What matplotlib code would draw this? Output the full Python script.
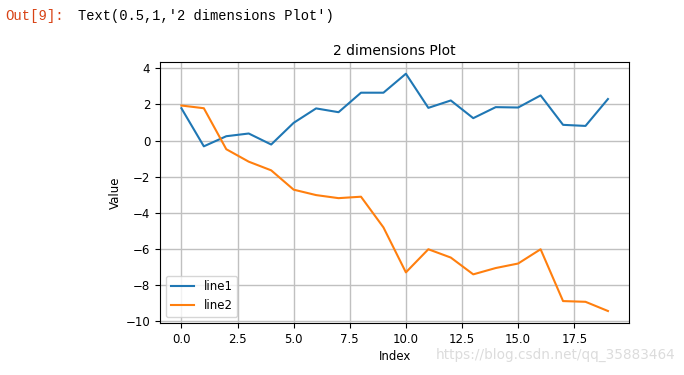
import matplotlib
matplotlib.use("Agg")
import matplotlib.pyplot as plt

# values
index = list(range(20))
line1 = [1.79, -0.32, 0.24, 0.39, -0.22, 0.98, 1.78, 1.57, 2.65, 2.65,
         3.70, 1.81, 2.22, 1.24, 1.85, 1.83, 2.50, 0.87, 0.81, 2.30]
line2 = [1.94, 1.79, -0.48, -1.17, -1.65, -2.72, -3.02, -3.19, -3.11, -4.81,
         -7.30, -6.02, -6.48, -7.41, -7.06, -6.81, -6.02, -8.89, -8.93, -9.44]
series_names = ['line1', 'line2']

plt.rcParams['font.size'] = 8.5

fig = plt.figure(figsize=(6.84, 3.75), dpi=100)
ax = fig.add_axes([0.234, 0.139, 0.686, 0.696])

ax.plot(index, line1, color='#1f77b4', lw=1.5, label=series_names[0])
ax.plot(index, line2, color='#ff7f0e', lw=1.5, label=series_names[1])

ax.grid(True, color='#c0c0c0', lw=1.0)
ax.set_xlabel('Index', labelpad=3)
ax.set_ylabel('Value', labelpad=3)
ax.set_title('2 dimensions Plot', fontsize=10, pad=5)
ax.legend(loc='lower left', fontsize=8.5)

# notebook prompt and watermark around the figure
fig.text(0.007, 0.975, 'Out[9]:', color='#d84315', family='Liberation Mono',
         fontsize=10, va='top')
fig.text(0.114, 0.975, "Text(0.5,1,'2 dimensions Plot')", color='black',
         family='Liberation Mono', fontsize=9.9, va='top')
fig.text(0.987, 0.035, 'https://blog.csdn.net/qq_35883464', color='#dcdcdc',
         fontsize=9.8, ha='right', va='bottom')

fig.savefig('out.png', dpi=100)
